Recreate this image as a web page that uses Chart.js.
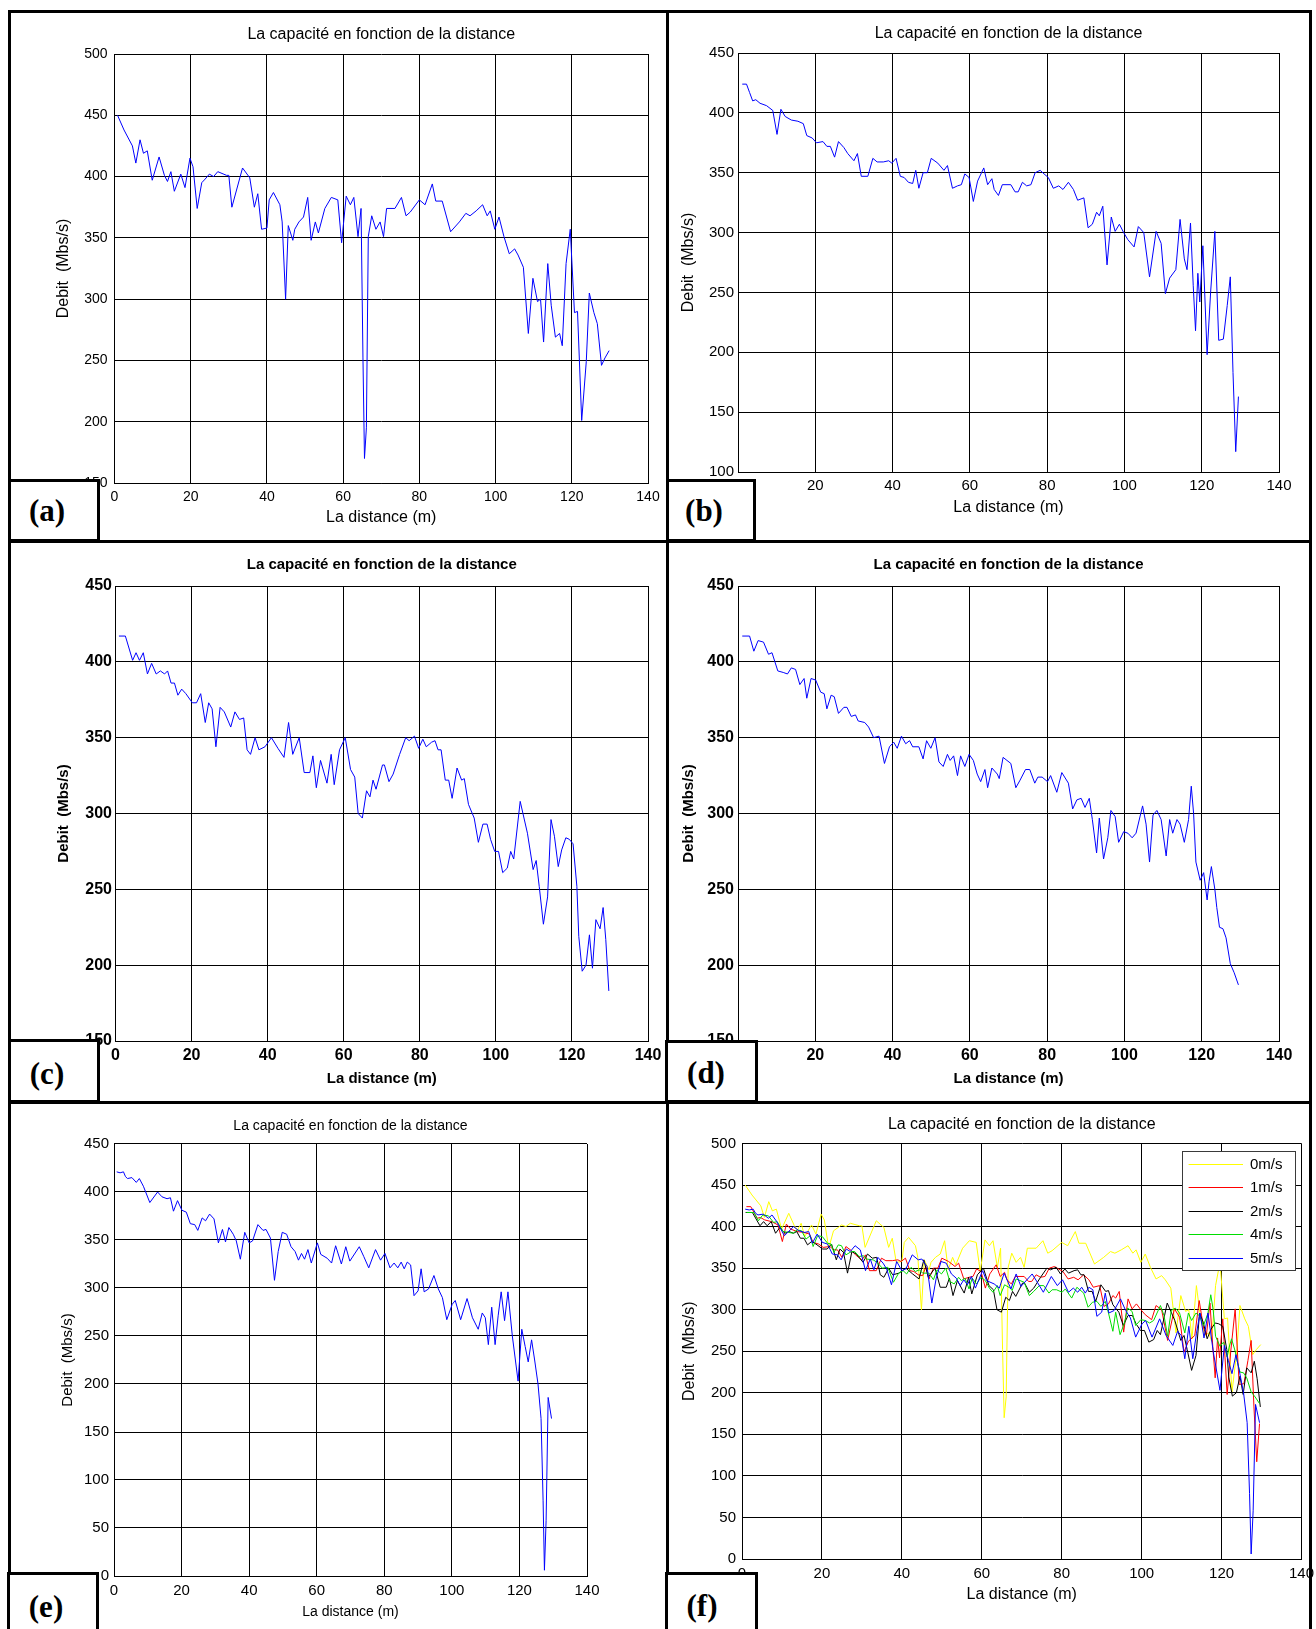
<!DOCTYPE html>
<html><head><meta charset="utf-8">
<script src="https://cdn.jsdelivr.net/npm/chart.js@4.4.0/dist/chart.umd.min.js"></script>
<style>
html,body{margin:0;padding:0;background:#fff;}
body{width:1316px;height:1629px;position:relative;overflow:hidden;}
canvas{position:absolute;}
.ln{position:absolute;background:#000;z-index:5;}
.lab{position:absolute;background:#fff;border:3px solid #000;box-sizing:border-box;z-index:6;}
.lt{position:absolute;z-index:7;font:bold 31px "Liberation Serif","Times New Roman",serif;line-height:1;transform:translate(-50%,-50%);color:#000;white-space:nowrap;}
</style></head><body>
<div class="ln" style="left:8px;top:10px;width:1304px;height:3px"></div>
<div class="ln" style="left:8px;top:10px;width:3px;height:1619px"></div>
<div class="ln" style="left:666px;top:10px;width:3px;height:1619px"></div>
<div class="ln" style="left:1309px;top:10px;width:3px;height:1619px"></div>
<div class="ln" style="left:8px;top:540px;width:1304px;height:3px"></div>
<div class="ln" style="left:8px;top:1101px;width:1304px;height:3px"></div>

<div class="lab" style="left:8px;top:479px;width:92px;height:63px"></div>
<div class="lt" style="left:47px;top:510px">(a)</div>
<div class="lab" style="left:666px;top:479px;width:90px;height:63px"></div>
<div class="lt" style="left:704px;top:510px">(b)</div>
<div class="lab" style="left:8px;top:1039px;width:92px;height:64px"></div>
<div class="lt" style="left:47px;top:1073px">(c)</div>
<div class="lab" style="left:665px;top:1040px;width:93px;height:63px"></div>
<div class="lt" style="left:706px;top:1072px">(d)</div>
<div class="lab" style="left:7px;top:1572px;width:92px;height:60px"></div>
<div class="lt" style="left:46px;top:1606px">(e)</div>
<div class="lab" style="left:665px;top:1572px;width:93px;height:60px"></div>
<div class="lt" style="left:702px;top:1605px">(f)</div>

<script>
// ---------------- DATA ----------------
const chartTitle = 'La capacité en fonction de la distance';
const xAxisTitle = 'La distance (m)';
const yAxisTitle = 'Debit  (Mbs/s)';
const distanceRange = [0, 140];
const distanceStep = 20;
const debitStep = 50;
const yRangeA = [150, 500];
const yRangeB = [100, 450];
const yRangeC = [150, 450];
const yRangeD = [150, 450];
const yRangeE = [0, 450];
const yRangeF = [0, 500];
const speedLabels = ['0m/s', '1m/s', '2m/s', '4m/s', '5m/s'];

// (a) 0 m/s
const distA = [0.8,2.5,4.7,5.6,6.7,7.6,8.6,9.9,11.7,13.1,
 13.9,14.8,15.7,17.4,18.5,19.8,20.6,21.7,22.9,23.8,
 24.9,26,27.1,29.4,30,30.8,33.6,35.5,36.7,37.6,
 38.6,40,40.6,41.7,43.4,44,44.9,45.6,46.8,47.3,
 48.4,49.6,50.7,51.6,52.7,53.5,55.2,56.9,58.6,59.6,
 60.8,61.9,62.8,63.9,64.7,65.2,65.6,66.1,66.6,67.5,
 68.6,69.7,70.6,71.4,73.6,75.3,76.5,77.6,80,81.5,
 83.4,84.3,86,88.2,90.5,92.2,93.3,94.9,96.6,97.8,
 98.6,99.8,100.9,102.2,103.6,105,105.9,107.3,108.6,109.8,
 111,111.8,112.6,113.7,114.6,115.7,116.8,117.5,118.5,119.6,
 120.7,121.5,122.6,123.8,124.6,125.8,126.7,127.8,128.7,129.8];
const debitA = [450,438,425,411,430,419,421,397,416,401,
 396,404,388,402,391,415,408,374,395,398,
 402,400,404,401,401,375,407,399,375,386,
 357,358,381,387,377,363,300,360,348,357,
 363,367,383,348,363,354,374,383,381,346,
 384,377,383,351,374,252,170,195,351,368,
 357,363,351,374,374,383,368,371,381,377,
 394,380,380,355,363,370,368,372,377,368,
 372,357,367,351,337,341,336,326,272,317,
 298,300,265,329,295,269,272,262,329,357,
 289,290,201,249,305,289,280,246,252,258];

// (b) 1 m/s
const distB = [1.1,2.2,3,3.8,4.6,5.7,7.4,9,10.1,11.1,
 12.2,13.8,15.5,16.9,17.8,19.2,20.3,22,23,23.9,
 25,26,27.4,28.4,30,30.9,31.9,33.6,34.9,36,
 37.6,39,39.8,40.9,42,43,44.1,45.2,46,46.8,
 47.9,49,50,51.7,53.3,54.2,55.5,56.8,57.8,58.7,
 59.8,60.9,62,63.6,64.6,65.7,66.3,67.4,68.4,70.6,
 71.7,72.5,73.6,74.7,75.8,76.9,78.2,79.2,80.3,81.6,
 83,84.1,85.5,86.8,87.9,89.5,90.6,91.7,92.8,93.5,
 94.4,95.5,96.6,97.6,98.7,99.8,100.9,102.5,103.6,105,
 106.5,108.2,109.5,110.6,111.7,113.3,114.4,115.5,116.2,117.1,
 117.8,118.4,119,119.5,120.3,121.4,122.3,123.4,124.4,125.6,
 126.6,127.4,128.1,128.8,129.5];
const debitB = [424,424,417,410,411,408,406,402,382,403,
 397,394,393,391,381,379,375,376,372,372,
 363,376,371,366,360,366,347,347,362,359,
 359,360,358,362,347,346,342,341,352,337,
 350,350,362,358,352,356,337,339,340,349,
 346,326,343,354,340,345,336,331,340,340,
 334,334,342,339,340,350,352,349,346,337,
 339,336,342,336,327,329,304,307,317,314,
 322,273,313,301,307,300,294,288,305,300,
 263,301,291,249,262,269,311,278,269,308,
 256,218,266,242,289,198,250,301,210,211,
 239,263,183,117,163];

// (c) 2 m/s
const distC = [0.9,2.6,4.5,5.4,6.3,7.3,8.4,9.5,10.7,11.8,
 12.9,13.7,14.6,15.5,16.4,17.4,18.5,20.2,21.3,22.4,
 23.6,24.5,25.4,26.4,27.5,28.6,30.3,31.4,32.6,33.7,
 34.6,35.5,36.7,37.7,39.3,41,42.7,44.3,45.5,46.6,
 48.3,49.6,51.1,51.9,52.8,53.9,55.6,56.7,57.5,58.9,
 60.4,61.8,62.9,63.8,64.9,66,66.9,67.7,68.5,70.2,
 70.7,71.9,73,74.7,76.3,77.2,78.6,79.7,80.8,81.7,
 83.1,84,84.8,85.6,86.7,87.6,88.5,89.8,91,91.7,
 92.8,94.3,95.4,96.6,97.7,98.6,99.7,100.7,101.8,103,
 103.9,104.7,106.4,108.3,109.8,110.6,111.4,112.5,113.6,114.5,
 115.4,116.4,117.3,118.4,119.3,120.3,121.3,121.8,122.7,123.7,
 124.6,125.4,126.3,127.4,128.2,128.9,129.7];
const debitC = [417,417,401,406,401,406,392,399,392,394,
 392,394,386,386,378,382,379,373,373,379,
 360,373,369,344,370,367,357,367,362,363,
 342,339,350,342,344,350,343,337,360,339,
 350,327,327,338,317,335,320,339,319,342,
 350,329,324,300,297,315,311,322,316,332,
 332,321,326,339,350,348,351,343,349,344,
 347,348,342,342,322,322,310,330,322,323,
 306,297,281,293,293,283,275,275,261,264,
 275,270,308,287,263,269,252,227,245,296,
 285,265,276,284,283,280,252,219,196,200,
 220,198,230,224,238,217,183];

// (d) 4 m/s
const distD = [1.1,3,4.1,5.2,6.6,7.9,8.8,10.3,11.7,12.8,
 13.8,14.9,16,17.1,17.8,18.9,20.1,21.4,22.3,23,
 24.1,24.9,26,27.4,28.2,29.3,30.4,31.1,32.8,33.8,
 35.1,36.5,37.9,39.2,40.3,41.2,42.3,43.4,44.4,45.2,
 46.8,47.9,48.8,49.9,51,52,53.1,54.2,54.9,55.8,
 56.8,57.6,58.7,59.8,60.9,61.9,62.8,63.9,64.6,65.7,
 67.1,67.6,68.6,70.6,71.9,73,74.4,75.5,76.8,77.6,
 78.7,80.1,80.9,82.5,83.8,85.5,86.6,87.7,88.8,89.8,
 90.9,91.7,92.8,93.5,94.6,95.7,96.5,97.6,98.5,99.8,
 100.9,102,103,104.7,105.6,106.5,107.4,108.4,109.5,110.8,
 111.7,112.5,113.6,114.4,115.5,116.6,117.3,117.9,118.5,119.6,
 120.5,121.4,121.9,122.5,123.4,123.9,124.6,125.5,126.3,127.4,128.4,129.5];
const debitD = [417,417,407,414,413,405,406,394,393,392,
 396,395,385,389,376,389,388,380,379,369,
 378,377,366,370,370,364,365,361,360,357,
 350,351,333,344,347,343,351,346,348,344,
 344,336,348,343,350,334,331,339,335,338,
 325,338,331,339,335,326,321,329,317,330,
 326,323,337,333,317,322,329,329,320,324,
 324,321,325,314,327,320,303,309,310,304,
 310,296,274,297,270,284,302,298,281,288,
 287,284,287,305,293,268,299,302,296,272,
 296,287,296,293,281,296,318,300,268,256,
 261,243,255,265,250,238,225,224,218,201,195,187];

// (e) 5 m/s
const distE = [0.8,1.8,2.8,3.4,4,5.3,6.6,7.5,8.7,10.6,
 12.9,14.2,15.7,16.7,17.6,18.8,20.1,21.4,22.6,23.9,
 24.8,26.1,27.1,28.3,29.6,30.9,32.1,33,34,35.3,
 36.2,37.4,38.7,40,41,42.6,44.1,45,46.3,47.5,
 48.6,49.8,51.1,52.4,53.6,54.6,55.5,56.4,57.4,58.4,
 60.2,61.2,63.1,64.4,65.6,67.3,68.6,69.8,72.6,73.9,
 75.4,77.4,78.9,80.2,81.7,82.9,84,85,85.9,86.8,
 87.8,88.8,90,90.9,91.8,93.1,94.7,96,97.2,98.5,
 100.1,101,102.6,104.5,106.1,107.8,109,109.9,110.8,111.8,
 112.8,113.7,114.6,115.6,116.6,117.9,119.6,120.7,121.7,122.6,
 123.6,124.5,125.5,126.4,127,127.4,127.9,128.5,129.5];
const debitE = [421,420,421,416,414,415,410,414,406,389,
 400,395,393,394,380,391,381,379,367,366,
 360,373,370,377,372,347,361,348,363,356,
 349,330,358,347,349,366,360,361,352,308,
 338,358,356,343,338,329,336,330,340,326,
 347,335,331,326,344,325,343,328,343,333,
 321,340,329,336,321,326,321,327,320,327,
 324,292,297,320,296,299,313,299,290,267,
 283,287,267,289,269,257,274,269,241,280,
 241,271,296,266,296,250,203,257,239,223,
 246,225,200,164,79,6,58,186,164];

// ---------------- LAYOUT ----------------
const P = {
 a:{box:[10,12,667,541], plot:[114.5,54,648,483], titleY:35, xTitleY:518, yTitleX:64, yGap:7, xGap:14, bold:false, fT:16, fK:14, fX:16, fY:16},
 b:{box:[667,12,1311,541], plot:[738,53,1279,472], titleY:34, xTitleY:507.5, yTitleX:689, yGap:4, xGap:14, bold:false, fT:16, fK:15, fX:16, fY:16},
 c:{box:[10,541,667,1102], plot:[115.5,586,648,1041], titleY:565, xTitleY:1078.5, yTitleX:64, yGap:3.5, xGap:15, bold:true, fT:15, fK:16, fX:15, fY:15},
 d:{box:[667,541,1311,1102], plot:[738,586,1279,1041], titleY:565, xTitleY:1078.5, yTitleX:689, yGap:4, xGap:15, bold:true, fT:15, fK:16, fX:15, fY:15},
 e:{box:[10,1102,667,1629], plot:[114,1144,587,1576], titleY:1126, xTitleY:1612, yTitleX:68, yGap:5, xGap:14.6, bold:false, fT:14, fK:15, fX:14, fY:15},
 f:{box:[667,1102,1311,1629], plot:[742,1143.5,1301.5,1559], titleY:1125, xTitleY:1595, yTitleX:690, yGap:6, xGap:15, bold:false, fT:16, fK:15, fX:16, fY:16}
};

Chart.defaults.font.family = '"Liberation Sans", Arial, Helvetica, sans-serif';
Chart.defaults.color = '#000';

const boxLegend = {
  id: 'boxLegend',
  afterDatasetsDraw(chart, args, o) {
    if (!o || !o.show) return;
    const ctx = chart.ctx, ca = chart.chartArea;
    const x0 = Math.round(ca.right - o.offR - o.w), y0 = Math.round(ca.top + o.offT);
    ctx.save();
    ctx.fillStyle = '#fff';
    ctx.fillRect(x0, y0, o.w, o.h);
    ctx.strokeStyle = '#3a3a3a'; ctx.lineWidth = 1;
    ctx.strokeRect(x0 + 0.5, y0 + 0.5, o.w, o.h);
    ctx.font = o.size + 'px "Liberation Sans", Arial, sans-serif';
    ctx.textBaseline = 'middle'; ctx.textAlign = 'left';
    chart.data.datasets.forEach((ds, i) => {
      const y = Math.round(y0 + o.first + i * o.step) + 0.5;
      ctx.strokeStyle = ds.borderColor;
      ctx.beginPath(); ctx.moveTo(x0 + o.l1, y); ctx.lineTo(x0 + o.l2, y); ctx.stroke();
      ctx.fillStyle = '#000';
      ctx.fillText(ds.label, x0 + o.tx, y);
    });
    ctx.restore();
  }
};

function pts(d, v) { return d.map((x, i) => ({x: x, y: v[i]})); }

function makePanel(p, datasets, yRange, legendOpts) {
  const M = 24;
  const cl = p.box[0] - M, ct = p.box[1] - M;
  const cw = p.box[2] - p.box[0] + 2 * M, ch = p.box[3] - p.box[1] + 2 * M;
  const cv = document.createElement('canvas');
  cv.width = cw; cv.height = ch;
  cv.style.left = cl + 'px'; cv.style.top = ct + 'px';
  cv.style.width = cw + 'px'; cv.style.height = ch + 'px';
  document.body.appendChild(cv);
  const [L, T, R, B] = p.plot;
  const lhT = p.fT * 1.2, lhX = p.fX * 1.2, lhY = p.fY * 1.2, lhK = p.fK * 1.2;
  const yTitleLeft = p.yTitleX - lhY / 2;
  const padL = yTitleLeft - cl;
  const yw = L - yTitleLeft;
  const padT = (p.titleY - lhT / 2) - ct;
  const titlePadB = T - (p.titleY + lhT / 2);
  const xAxisBottom = p.xTitleY + lhX / 2;
  const xh = xAxisBottom - B;
  const padB = (ct + ch) - xAxisBottom;
  const padR = (cl + cw) - R;
  const weight = p.bold ? 'bold' : 'normal';
  const f = s => ({size: s, weight: weight, lineHeight: 1.2});
  new Chart(cv, {
    type: 'line',
    data: {datasets: datasets},
    plugins: legendOpts ? [boxLegend] : [],
    options: {
      responsive: false, animation: false, events: [],
      layout: {padding: {left: padL, top: padT, right: padR, bottom: padB}},
      plugins: {
        legend: {display: false},
        tooltip: {enabled: false},
        title: {display: true, text: chartTitle, fullSize: false, color: '#000', font: f(p.fT), padding: {top: 0, bottom: titlePadB}},
        boxLegend: legendOpts || {show: false}
      },
      elements: {point: {radius: 0}, line: {borderWidth: 1, tension: 0}},
      scales: {
        x: {
          type: 'linear', position: 'bottom', min: distanceRange[0], max: distanceRange[1],
          ticks: {stepSize: distanceStep, padding: p.xGap - lhK / 2, font: f(p.fK), color: '#000', autoSkip: false, maxRotation: 0},
          grid: {color: '#000', lineWidth: 1, drawTicks: false},
          border: {color: '#000', width: 1},
          title: {display: true, text: xAxisTitle, font: f(p.fX), color: '#000', padding: 0},
          afterFit: s => { s.height = xh; }
        },
        y: {
          type: 'linear', position: 'left', min: yRange[0], max: yRange[1],
          ticks: {stepSize: debitStep, padding: p.yGap, font: f(p.fK), color: '#000', autoSkip: false},
          grid: {color: '#000', lineWidth: 1, drawTicks: false},
          border: {color: '#000', width: 1},
          title: {display: true, text: yAxisTitle, font: f(p.fY), color: '#000', padding: 0},
          afterFit: s => { s.width = yw; }
        }
      }
    }
  });
}

function blue(d, v) {
  return [{label: 'debit', data: pts(d, v), borderColor: '#0000ff', borderWidth: 1, pointRadius: 0, fill: false}];
}

makePanel(P.a, blue(distA, debitA), yRangeA);
makePanel(P.b, blue(distB, debitB), yRangeB);
makePanel(P.c, blue(distC, debitC), yRangeC);
makePanel(P.d, blue(distD, debitD), yRangeD);
makePanel(P.e, blue(distE, debitE), yRangeE);

const allDist = [distA, distB, distC, distD, distE];
const allDebit = [debitA, debitB, debitC, debitD, debitE];
const speedColors = ['#ffff00', '#ff0000', '#000000', '#00dd00', '#0000ff'];
const fSets = speedLabels.map((lab, i) => ({
  label: lab, data: pts(allDist[i], allDebit[i]), borderColor: speedColors[i],
  borderWidth: 1, pointRadius: 0, fill: false, order: 4 - i
}));
makePanel(P.f, fSets, yRangeF, {show: true, offR: 6.5, offT: 7, w: 113, h: 119, first: 12.6, step: 23.5, l1: 6.6, l2: 61, tx: 68, size: 15});
</script>
</body></html>
